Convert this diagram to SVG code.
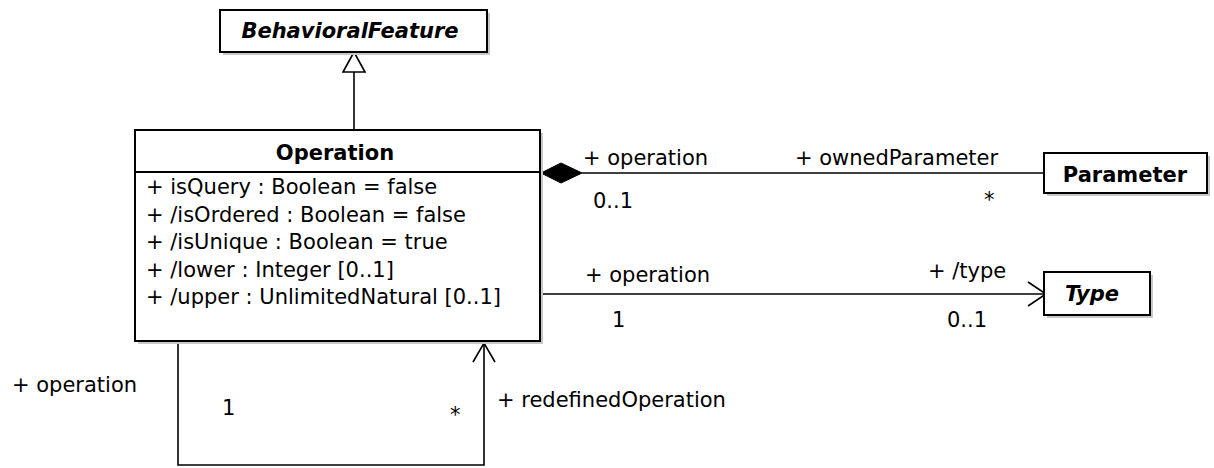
<svg xmlns="http://www.w3.org/2000/svg" width="1214" height="468" viewBox="0 0 1214 468">
  <style>
    .box { fill: #ffffff; stroke: #000000; stroke-width: 2; }
    .shadow { fill: #c8c8c8; stroke: none; }
    .line { fill: none; stroke: #000000; stroke-width: 1.6; }
    .t { font-family: "DejaVu Sans", Verdana, sans-serif; font-size: 21px; fill: #000000; }
    .b { font-weight: bold; }
    .bi { font-weight: bold; font-style: italic; }
  </style>
  <rect width="1214" height="468" fill="#ffffff"/>

  <g id="connectors">
    <!-- generalization Operation -> BehavioralFeature -->
    <line class="line" x1="354" y1="72" x2="354" y2="130"/>
    <polygon points="354,52 343,72 365,72" fill="#ffffff" stroke="#000000" stroke-width="1.6"/>
    <!-- composition Operation <>- Parameter -->
    <line class="line" x1="582" y1="173" x2="1044" y2="173"/>
    <polygon points="541,173 561,163 582,173 561,183" fill="#000000" stroke="#000000" stroke-width="1"/>
    <!-- association Operation -> Type -->
    <line class="line" x1="541" y1="294" x2="1045" y2="294"/>
    <polyline class="line" points="1028,282 1046,294 1028,306"/>
    <!-- self association redefinedOperation -->
    <polyline class="line" points="178,342 178,465 484,465 484,343"/>
    <polyline class="line" points="473,362 484,343 495,362"/>
  </g>

  <g id="node-behavioralfeature">
    <rect class="shadow" x="223" y="13" width="267" height="42"/>
    <rect class="box" x="220" y="10" width="267" height="42"/>
    <text class="t bi" x="350" y="38" text-anchor="middle">BehavioralFeature</text>
  </g>

  <g id="node-operation">
    <rect class="shadow" x="138" y="133" width="405" height="211"/>
    <rect class="box" x="135" y="130" width="405" height="211"/>
    <line x1="135" y1="172" x2="540" y2="172" stroke="#000000" stroke-width="2"/>
    <text class="t b" x="335" y="160" text-anchor="middle">Operation</text>
    <text class="t" x="146" y="194">+ isQuery : Boolean = false</text>
    <text class="t" x="146" y="221.5">+ /isOrdered : Boolean = false</text>
    <text class="t" x="146" y="249">+ /isUnique : Boolean = true</text>
    <text class="t" x="146" y="276.5">+ /lower : Integer [0..1]</text>
    <text class="t" x="146" y="304">+ /upper : UnlimitedNatural [0..1]</text>
  </g>

  <g id="node-parameter">
    <rect class="shadow" x="1047" y="156" width="163" height="40"/>
    <rect class="box" x="1044" y="153" width="163" height="40"/>
    <text class="t b" x="1125" y="182" text-anchor="middle">Parameter</text>
  </g>

  <g id="node-type">
    <rect class="shadow" x="1047" y="275" width="106" height="43"/>
    <rect class="box" x="1044" y="272" width="106" height="43"/>
    <text class="t bi" x="1092" y="301" text-anchor="middle">Type</text>
  </g>

  <g id="labels">
    <text class="t" x="583" y="165">+ operation</text>
    <text class="t" x="593" y="208">0..1</text>
    <text class="t" x="795" y="165">+ ownedParameter</text>
    <text class="t" x="984" y="207">*</text>
    <text class="t" x="585" y="282">+ operation</text>
    <text class="t" x="612" y="327">1</text>
    <text class="t" x="928" y="278">+ /type</text>
    <text class="t" x="947" y="327">0..1</text>
    <text class="t" x="12" y="392">+ operation</text>
    <text class="t" x="222" y="415">1</text>
    <text class="t" x="450" y="422">*</text>
    <text class="t" x="497" y="407">+ redefinedOperation</text>
  </g>
</svg>
